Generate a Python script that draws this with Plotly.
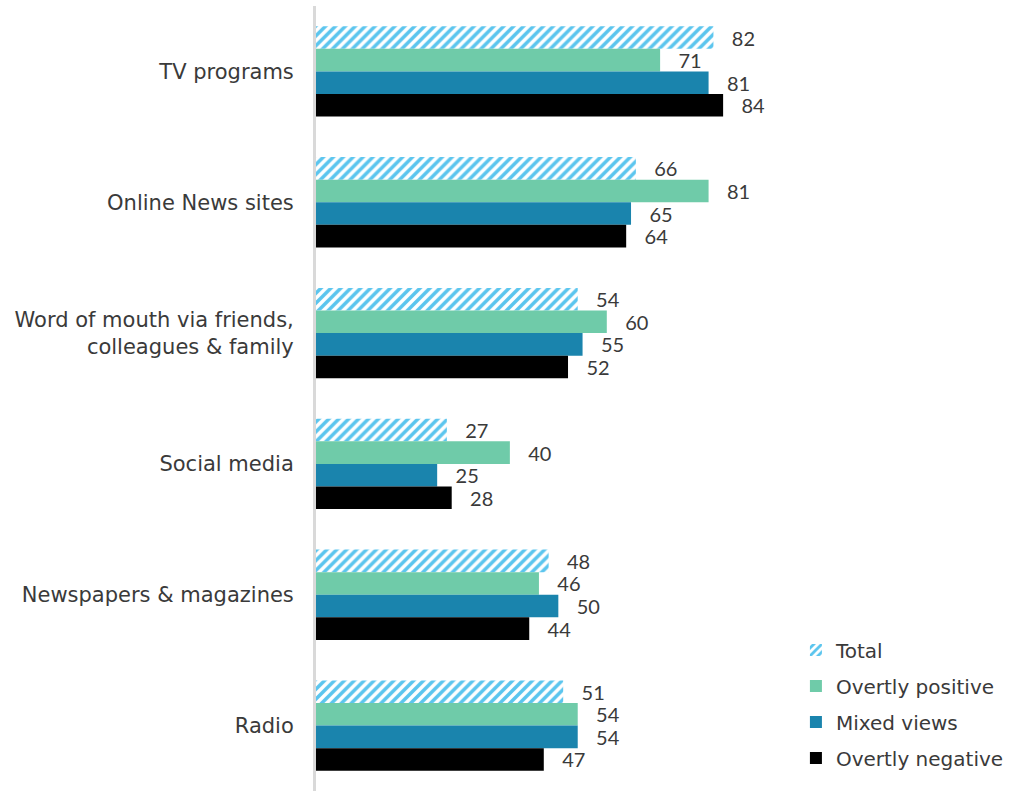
import plotly.graph_objects as go

categories = ["TV programs", "Online News sites",
              "Word of mouth via friends,<br>colleagues & family",
              "Social media", "Newspapers & magazines", "Radio"]
series_names = ["Total", "Overtly positive", "Mixed views", "Overtly negative"]
total = [82, 66, 54, 27, 48, 51]
overtly_positive = [71, 81, 60, 40, 46, 54]
mixed_views = [81, 65, 55, 25, 50, 54]
overtly_negative = [84, 64, 52, 28, 44, 47]

series_values = [total, overtly_positive, mixed_views, overtly_negative]
colors = ["#5BC5EE", "#6FCBA9", "#1A84AD", "#000000"]
LABEL_FONT = "DejaVu Sans"
NUM_FONT = "Lato"
TEXT = "#3a3a3a"
PAD = "\u00a0\u00a0\u00a0"

fig = go.Figure()
for i, (name, vals, col) in enumerate(zip(series_names, series_values, colors)):
    if i == 0:
        marker = dict(color="white",
                      pattern=dict(shape="/", fgcolor=col, bgcolor="white",
                                   size=7, solidity=0.5, fillmode="replace"),
                      line=dict(width=0))
    else:
        marker = dict(color=col, line=dict(width=0))
    fig.add_trace(go.Bar(
        name=name, x=vals, y=categories, orientation="h",
        marker=marker, legendgroup=name,
        text=[PAD + str(v) for v in vals], textposition="outside",
        constraintext="none", cliponaxis=False,
        outsidetextfont=dict(family=NUM_FONT, size=20, color=TEXT),
    ))

fig.update_layout(
    width=1027, height=791,
    margin=dict(l=316, r=0, t=6, b=0),
    paper_bgcolor="white", plot_bgcolor="white",
    barmode="group", bargap=0.31, bargroupgap=0,
    font=dict(family=LABEL_FONT, size=21, color=TEXT),
    showlegend=True,
    legend=dict(x=0.675, y=0.2045, xanchor="left", yanchor="top",
                traceorder="grouped", font=dict(family=LABEL_FONT, size=20, color=TEXT),
                itemwidth=30, tracegroupgap=7, bgcolor="rgba(0,0,0,0)"),
    xaxis=dict(range=[0, 146.7], visible=False, showgrid=False, zeroline=False),
    yaxis=dict(autorange="reversed", showline=True, linecolor="#D9D9D9",
               linewidth=3, ticks="", showgrid=False, ticklabelstandoff=15,
               tickfont=dict(family=LABEL_FONT, size=21, color=TEXT)),
)
fig.write_html("out.html")
